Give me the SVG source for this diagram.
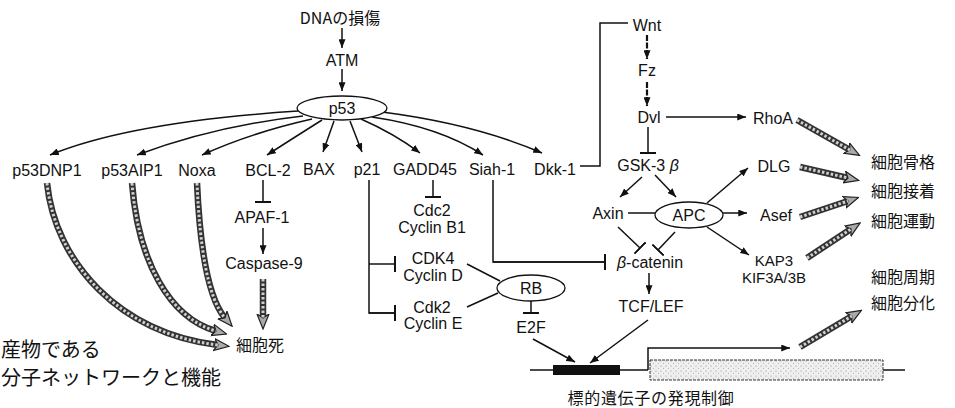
<svg xmlns="http://www.w3.org/2000/svg" width="955" height="408" viewBox="0 0 955 408">
<style>
text{font-family:"Liberation Sans","Noto Sans CJK JP",sans-serif;font-size:16px;fill:#111;text-anchor:middle}
.jp{font-family:"Noto Sans CJK JP",sans-serif}
.big{font-size:20px;text-anchor:start}
.ln{fill:none;stroke:#111;stroke-width:1.5}
.a{marker-end:url(#arr)}
.t{marker-end:url(#tbar)}
.dash{stroke-width:2.2;stroke-dasharray:6 1.5}
.h1{fill:none;stroke:#333;stroke-width:6.5;marker-end:url(#harr)}
.h2{fill:none;stroke:#d0d0d0;stroke-width:3;stroke-dasharray:2.5 2}
.el{fill:#fff;stroke:#111;stroke-width:1.3}
.sm{font-size:15px}
</style>
<defs>
<marker id="arr" viewBox="0 0 10 8" refX="10" refY="4" markerWidth="9" markerHeight="7" markerUnits="userSpaceOnUse" orient="auto"><path d="M0,0 L10,4 L0,8 z" fill="#111"/></marker>
<marker id="tbar" viewBox="0 0 2 16" refX="1" refY="8" markerWidth="2" markerHeight="16" markerUnits="userSpaceOnUse" orient="auto"><path d="M1,0 L1,16" stroke="#111" stroke-width="2"/></marker>
<marker id="harr" viewBox="0 0 16 14" refX="4" refY="7" markerWidth="16" markerHeight="14" markerUnits="userSpaceOnUse" orient="auto"><path d="M0,1 L15,7 L0,13 L4,7 z" fill="#aaa" stroke="#222" stroke-width="1.2"/></marker>
<pattern id="stip" width="5" height="5" patternUnits="userSpaceOnUse"><rect width="5" height="5" fill="#f0f0f0"/><circle cx="1" cy="1" r="0.6" fill="#888"/><circle cx="3.5" cy="3.2" r="0.5" fill="#999"/></pattern>
</defs>
<rect width="955" height="408" fill="#fff"/>

<g id="connectors">
<path class="ln a" stroke-width="2" d="M342,28 L342,48"/>
<path class="ln a" stroke-width="2" d="M342,69 L342,91"/>
<path class="ln a" d="M298,111 Q130,122 50,155"/>
<path class="ln a" d="M303,116 Q215,126 137,155"/>
<path class="ln a" d="M312,119 Q250,133 202,155"/>
<path class="ln a" d="M322,120 Q295,137 267,155"/>
<path class="ln a" d="M334,121 L323,152"/>
<path class="ln a" d="M350,121 L362,152"/>
<path class="ln a" d="M361,119 Q395,134 420,153"/>
<path class="ln a" d="M372,117 Q440,127 483,155"/>
<path class="ln a" d="M382,112 Q475,124 542,153"/>
<path class="ln t" d="M263,180 L263,202"/>
<path class="ln a" d="M263,228 L263,254"/>
<path class="ln t" d="M433,180 L433,197"/>
<path class="ln" d="M369,180 L369,313 L394,313"/>
<path class="ln t" d="M369,313 L395,313"/>
<path class="ln t" d="M369,264 L395,264"/>
<path class="ln" d="M467,264 L500,281"/>
<path class="ln" d="M467,307 L498,293"/>
<path class="ln t" d="M531,301 L531,313"/>
<path class="ln" d="M580,166 L600,166 L600,23 L628,23"/>
<path class="ln dash a" d="M647,35 L647,59"/>
<path class="ln dash a" d="M647,82 L647,106"/>
<path class="ln a" d="M666,117 L746,117"/>
<path class="ln t" d="M648,127 L648,153"/>
<path class="ln a" d="M642,177 L620,197"/>
<path class="ln a" d="M655,175 L676,197"/>
<path class="ln" d="M628,213 L655,213"/>
<path class="ln a" d="M707,203 L748,168"/>
<path class="ln a" d="M723,213 L747,213"/>
<path class="ln a" d="M707,227 L749,255"/>
<path class="ln t" d="M618,227 L640,248"/>
<path class="ln t" d="M675,232 L658,250"/>
<path class="ln" d="M493,180 L493,262 L604,262"/>
<path class="ln t" d="M493,262 L605,262"/>
<path class="ln a" d="M649,273 L649,294"/>
<path class="ln a" d="M533,339 L575,362"/>
<path class="ln a" d="M648,320 L590,363"/>
<path class="ln a" d="M648,370 L648,348 L790,348"/>
<path class="h1" d="M47,183 C55,262 120,334 218,345"/>
<path class="h2" d="M47,183 C55,262 120,334 218,345"/>
<path class="h1" d="M132,183 C138,262 170,318 216,331"/>
<path class="h2" d="M132,183 C138,262 170,318 216,331"/>
<path class="h1" d="M197,183 C200,250 208,298 225,318"/>
<path class="h2" d="M197,183 C200,250 208,298 225,318"/>
<path class="h1" d="M263,279 L263,318"/>
<path class="h2" d="M263,279 L263,318"/>
<path class="h1" d="M797,120 L850,150"/>
<path class="h2" d="M797,120 L850,150"/>
<path class="h1" d="M800,167 L848,178"/>
<path class="h2" d="M800,167 L848,178"/>
<path class="h1" d="M800,217 L848,201"/>
<path class="h2" d="M800,217 L848,201"/>
<path class="h1" d="M807,258 L851,229"/>
<path class="h2" d="M807,258 L851,229"/>
<path class="h1" d="M800,347 L852,316"/>
<path class="h2" d="M800,347 L852,316"/>
</g>

<g id="gene">
<path class="ln" d="M530,370 L648,370"/>
<path class="ln" d="M883,370 L905,370"/>
<rect x="553" y="365" width="67" height="10" fill="#111"/>
<rect x="650" y="360" width="233" height="20" fill="url(#stip)" stroke="#333" stroke-width="1" stroke-dasharray="3 1"/>
</g>

<g id="n-dna"><text class="jp" x="340" y="24">DNAの損傷</text></g>
<g id="n-atm"><text x="342" y="66">ATM</text></g>
<g id="n-p53"><ellipse class="el" cx="342" cy="108" rx="45" ry="12"/><text x="342" y="114">p53</text></g>
<g id="n-p53dnp1"><text x="47" y="176">p53DNP1</text></g>
<g id="n-p53aip1"><text x="132" y="176">p53AIP1</text></g>
<g id="n-noxa"><text x="197" y="176">Noxa</text></g>
<g id="n-bcl2"><text x="268" y="176">BCL-2</text></g>
<g id="n-bax"><text x="319" y="175">BAX</text></g>
<g id="n-p21"><text x="367" y="175">p21</text></g>
<g id="n-gadd45"><text x="425" y="175">GADD45</text></g>
<g id="n-siah1"><text x="492" y="175">Siah-1</text></g>
<g id="n-dkk1"><text x="555" y="175">Dkk-1</text></g>
<g id="n-apaf1"><text x="262" y="223">APAF-1</text></g>
<g id="n-casp9"><text x="264" y="269">Caspase-9</text></g>
<g id="n-death"><text class="jp" x="260" y="351">細胞死</text></g>
<g id="n-cdc2"><text x="432" y="216">Cdc2</text><text x="432" y="233">Cyclin B1</text></g>
<g id="n-cdk4"><text x="433" y="264">CDK4</text><text x="433" y="281">Cyclin D</text></g>
<g id="n-cdk2"><text x="432" y="313">Cdk2</text><text x="433" y="329">Cyclin E</text></g>
<g id="n-rb"><ellipse class="el" cx="531" cy="288" rx="34" ry="13"/><text x="531" y="294">RB</text></g>
<g id="n-e2f"><text x="531" y="333">E2F</text></g>
<g id="n-wnt"><text x="647" y="31">Wnt</text></g>
<g id="n-fz"><text x="647" y="76">Fz</text></g>
<g id="n-dvl"><text x="649" y="123">Dvl</text></g>
<g id="n-rhoa"><text x="773" y="124">RhoA</text></g>
<g id="n-gsk"><text x="648" y="171">GSK-3 <tspan font-style="italic">β</tspan></text></g>
<g id="n-axin"><text x="608" y="219">Axin</text></g>
<g id="n-apc"><ellipse class="el" cx="689" cy="215" rx="34" ry="13"/><text x="689" y="221">APC</text></g>
<g id="n-dlg"><text x="774" y="172">DLG</text></g>
<g id="n-asef"><text x="776" y="221">Asef</text></g>
<g id="n-kap3"><text class="sm" x="774" y="266">KAP3</text><text class="sm" x="774" y="283">KIF3A/3B</text></g>
<g id="n-bcat"><text x="650" y="268"><tspan font-style="italic">β</tspan>-catenin</text></g>
<g id="n-tcf"><text x="651" y="312">TCF/LEF</text></g>
<g id="n-right">
<text class="jp" x="903" y="168">細胞骨格</text>
<text class="jp" x="903" y="197">細胞接着</text>
<text class="jp" x="903" y="227">細胞運動</text>
<text class="jp" x="903" y="283">細胞周期</text>
<text class="jp" x="903" y="309">細胞分化</text>
</g>
<g id="n-target"><text class="jp" x="651" y="404" font-size="17" letter-spacing="0.7">標的遺伝子の発現制御</text></g>
<g id="caption">
<text class="jp big" x="1" y="357">産物である</text>
<text class="jp big" x="1" y="385">分子ネットワークと機能</text>
</g>
</svg>
